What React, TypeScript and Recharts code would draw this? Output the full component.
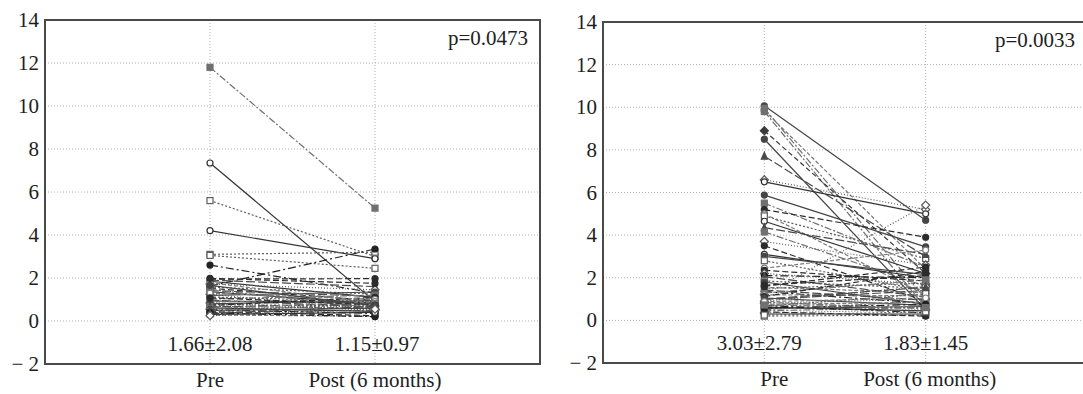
import { ScatterChart, Scatter, XAxis, YAxis, CartesianGrid, ReferenceArea, ReferenceDot } from 'recharts'

// x positions of the two time points, and their labels
const timepoints = [1, 2]
const timepointLabels = ['Pre', 'Post (6 months)']
const yTicks = [-2, 0, 2, 4, 6, 8, 10, 12, 14]

// left panel, one value per subject
const leftPre = [
    11.8, 7.35, 5.6, 4.2, 3.1, 3.05, 2.6, 1.62, 1.95, 1.9, 1.85, 0.93, 1.72, 0.4, 1.58, 1.52,
    0.61, 1.41, 1.36, 0.76, 1.24, 1.19, 1.12, 0.28, 1.02, 0.97, 1.78, 0.88, 0.84, 0.8, 1.47, 0.72,
    0.68, 0.65, 1.3, 0.58, 0.55, 0.52, 0.49, 0.46, 1.08, 0.43, 1.66, 0.37, 0.34, 0.31, 0.25, 1.98,
]
const leftPost = [
    5.25, 0.9, 3.0, 2.9, 3.2, 2.45, 1.3, 3.35, 1.97, 1.6, 1.1, 0.85, 1.45, 0.5, 1.25, 0.95,
    0.45, 1.15, 0.8, 0.7, 0.55, 1.35, 0.9, 0.22, 1.2, 0.65, 0.85, 1.05, 0.5, 0.95, 0.6, 1.1,
    0.6, 0.82, 1.0, 0.9, 0.7, 0.35, 0.6, 0.8, 0.75, 0.25, 0.7, 0.2, 0.68, 0.4, 0.55, 1.75,
]
const leftLooks = [
    2, 0, 1, 0, 1, 1, 8, 8, 3, 5, 0, 0, 4, 2, 1, 3,
    0, 5, 0, 1, 4, 6, 1, 7, 2, 5, 7, 7, 4, 6, 2, 3,
    2, 5, 7, 7, 4, 8, 6, 1, 3, 3, 6, 8, 5, 0, 4, 3,
]
const leftMeans = ['1.66±2.08', '1.15±0.97']
const leftP = 'p=0.0473'

// right panel, one value per subject
const rightPre = [
    10.07, 9.95, 9.85, 9.8, 8.9, 8.5, 7.7, 6.6, 6.5, 5.88, 5.5, 5.2, 5.0, 4.9, 4.65, 4.35,
    4.15, 3.7, 3.5, 3.1, 3.0, 2.8, 2.45, 2.35, 2.2, 2.1, 2.05, 1.2, 1.85, 1.8,
    1.65, 1.55, 0.45, 1.5, 1.42, 0.9, 1.35, 1.28, 0.62, 1.2, 1.12, 1.05, 0.2, 0.98, 0.85, 0.8,
    0.75, 1.6, 0.7, 0.66, 0.55, 0.5, 0.35, 0.3, 1.0, 0.4, 0.25, 0.88, 0.58, 0.72,
]
const rightPost = [
    4.7, 1.0, 2.4, 0.6, 2.2, 0.5, 3.0, 5.2, 5.0, 3.45, 2.5, 3.9, 1.2, 2.9, 2.2, 3.1,
    1.6, 2.6, 0.9, 2.0, 2.15, 1.4, 3.3, 1.85, 1.7, 2.0, 1.1, 5.41, 1.5, 0.75,
    2.1, 1.3, 0.6, 1.75, 0.95, 1.6, 0.8, 1.9, 0.45, 1.15, 2.3, 0.7, 0.25, 1.4, 0.55, 1.0,
    0.85, 2.5, 0.35, 1.25, 0.65, 0.9, 0.5, 0.3, 1.55, 0.2, 0.4, 1.05, 0.75, 0.6,
]
const rightLooks = [
    6, 2, 7, 2, 9, 6, 5, 4, 0, 6, 2, 3, 7, 1, 0, 5,
    2, 4, 3, 0, 6, 1, 7, 3, 4, 8, 5, 4, 1, 6,
    3, 7, 2, 1, 5, 4, 8, 2, 0, 7, 3, 6, 1, 5, 2, 4,
    7, 3, 8, 1, 6, 2, 4, 0, 5, 3, 1, 7, 8, 2,
]
const rightMeans = ['3.03±2.79', '1.83±1.45']
const rightP = 'p=0.0033'

const FONT = '"Liberation Serif", "Times New Roman", serif'
const TEXT = '#1e1e1e'
const textStyle = { fontFamily: FONT, fontSize: 21, fill: TEXT }

const LOOKS = [
    { dash: undefined, color: '#333333', mark: 'circleOpen' },
    { dash: '2 2', color: '#5e5e5e', mark: 'squareOpen' },
    { dash: '7 2 2 2', color: '#707070', mark: 'squareFilled' },
    { dash: '6 3', color: '#2c2c2c', mark: 'circleFilled' },
    { dash: '1 2', color: '#5a5a5a', mark: 'diamondOpen' },
    { dash: '9 3', color: '#4a4a4a', mark: 'triangleFilled' },
    { dash: undefined, color: '#454545', mark: 'circleFilled' },
    { dash: '4 2', color: '#7a7a7a', mark: 'circleOpen' },
    { dash: '8 3 2 3', color: '#222222', mark: 'circleFilled' },
    { dash: '5 3', color: '#3a3a3a', mark: 'diamondFilled' },
]

function Marker({ cx, cy, mark, color }: any) {
    if (cx == null || cy == null) return null
    const s = 3
    const open = mark.endsWith('Open')
    const fill = open ? '#fff' : color
    if (mark.startsWith('circle')) {
        return <circle cx={cx} cy={cy} r={s} fill={fill} stroke={color} strokeWidth={1.2} />
    }
    if (mark.startsWith('square')) {
        return <rect x={cx - s} y={cy - s} width={2 * s} height={2 * s} fill={fill} stroke={color} strokeWidth={1.2} />
    }
    if (mark.startsWith('diamond')) {
        const d = `M${cx},${cy - s - 1}L${cx + s + 1},${cy}L${cx},${cy + s + 1}L${cx - s - 1},${cy}Z`
        return <path d={d} fill={fill} stroke={color} strokeWidth={1.2} />
    }
    const d = `M${cx},${cy - s - 1}L${cx + s},${cy + s}L${cx - s},${cy + s}Z`
    return <path d={d} fill={fill} stroke={color} strokeWidth={1.2} />
}

function renderYTick(props: any) {
    const { x, y, payload } = props
    const v = payload.value
    const label = v < 0 ? '− ' + Math.abs(v) : String(v)
    return (
        <text x={x} y={y} dy={7} textAnchor="end" style={textStyle}>
            {label}
        </text>
    )
}

function makeXTick(offsets: number[]) {
    return (props: any) => {
        const { x, y, payload } = props
        const i = timepoints.indexOf(payload.value)
        return (
            <text x={x + (offsets[i] ?? 0)} y={y} dy={15} textAnchor="middle" style={textStyle}>
                {timepointLabels[i] ?? ''}
            </text>
        )
    }
}

interface PanelProps {
    pre: number[]
    post: number[]
    looks: number[]
    means: string[]
    pText: string
    width: number
    top: number
    axisHeight: number
    rightMargin: number
    tickDx: number[]
    meanDx: number[]
}

function Panel({ pre, post, looks, means, pText, width, top, axisHeight, rightMargin, tickDx, meanDx }: PanelProps) {
    return (
        <ScatterChart
            width={width}
            height={394}
            margin={{ top, right: rightMargin, bottom: 0, left: 0 }}
        >
            <CartesianGrid stroke="#b0b0b0" strokeDasharray="1 2" />
            <XAxis
                type="number"
                dataKey="x"
                domain={[0, 3]}
                ticks={timepoints}
                height={axisHeight}
                axisLine={false}
                tickLine={false}
                tick={makeXTick(tickDx)}
                allowDataOverflow
            />
            <YAxis
                type="number"
                dataKey="y"
                domain={[-2, 14]}
                ticks={yTicks}
                width={45}
                axisLine={false}
                tickLine={false}
                tickSize={6}
                tickMargin={0}
                tick={renderYTick}
                allowDataOverflow
            />
            {pre.map((v, i) => {
                const look = LOOKS[looks[i] % LOOKS.length]
                return (
                    <Scatter
                        key={i}
                        data={[{ x: timepoints[0], y: v }, { x: timepoints[1], y: post[i] }]}
                        line={{ stroke: look.color, strokeWidth: 1.2, strokeDasharray: look.dash }}
                        lineType="joint"
                        shape={(p: any) => <Marker cx={p.cx} cy={p.cy} mark={look.mark} color={look.color} />}
                        isAnimationActive={false}
                    />
                )
            })}
            <ReferenceArea
                x1={0}
                x2={3}
                y1={-2}
                y2={14}
                fill="none"
                fillOpacity={0}
                stroke="#4a4a4a"
                strokeWidth={2}
                ifOverflow="visible"
            />
            {means.map((m, i) => (
                <ReferenceDot
                    key={m}
                    x={timepoints[i]}
                    y={-2}
                    r={0}
                    ifOverflow="visible"
                    shape={(p: any) => (
                        <text x={p.cx + meanDx[i]} y={p.cy - 13} textAnchor="middle" style={textStyle}>
                            {m}
                        </text>
                    )}
                />
            ))}
            <ReferenceDot
                x={3}
                y={14}
                r={0}
                ifOverflow="visible"
                shape={(p: any) => (
                    <text x={p.cx - 12} y={p.cy + 25} textAnchor="end" style={textStyle}>
                        {pText}
                    </text>
                )}
            />
        </ScatterChart>
    )
}

export default function App() {
    return (
        <div
            style={{
                position: 'fixed',
                left: 0,
                top: 0,
                width: 1083,
                height: 394,
                overflow: 'hidden',
                background: '#fff',
            }}
        >
            <div style={{ position: 'absolute', left: 0, top: 0 }}>
                <Panel
                    pre={leftPre}
                    post={leftPost}
                    looks={leftLooks}
                    means={leftMeans}
                    pText={leftP}
                    width={545}
                    top={20}
                    axisHeight={30}
                    rightMargin={5}
                    tickDx={[0, 0]}
                    meanDx={[0, 2]}
                />
            </div>
            <div style={{ position: 'absolute', left: 558, top: 0 }}>
                <Panel
                    pre={rightPre}
                    post={rightPost}
                    looks={rightLooks}
                    means={rightMeans}
                    pText={rightP}
                    width={535}
                    top={22}
                    axisHeight={31}
                    rightMargin={6}
                    tickDx={[10, 4]}
                    meanDx={[-5, 0]}
                />
            </div>
        </div>
    )
}
